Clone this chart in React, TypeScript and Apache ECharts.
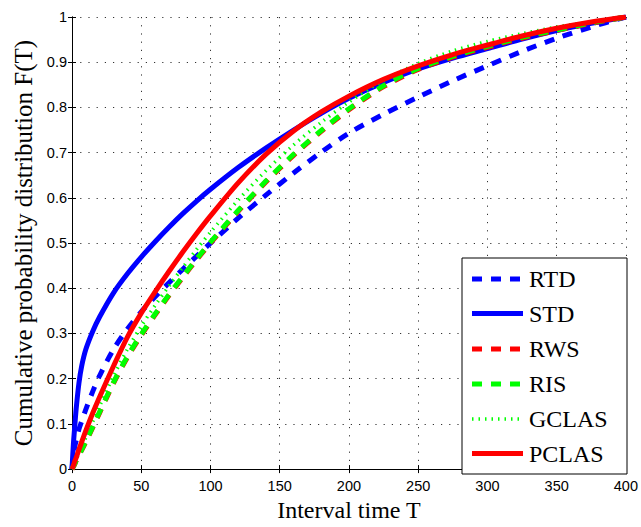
import React, { useEffect, useRef } from "react";
import * as echarts from "echarts";

const xs = [0, 1, 2, 3, 5, 7, 10, 15, 20, 30, 40, 50, 60, 70, 80, 90, 100, 120, 140, 160, 180, 200, 225, 250, 275, 300, 325, 350, 375, 400];

const rtd = [0, 0.03, 0.05, 0.063, 0.088, 0.106, 0.132, 0.172, 0.207, 0.265, 0.31, 0.348, 0.381, 0.412, 0.442, 0.471, 0.5, 0.555, 0.606, 0.655, 0.701, 0.743, 0.785, 0.823, 0.859, 0.892, 0.924, 0.953, 0.978, 1];
const std = [0, 0.055, 0.095, 0.133, 0.19, 0.228, 0.265, 0.305, 0.337, 0.39, 0.432, 0.469, 0.503, 0.535, 0.565, 0.593, 0.619, 0.667, 0.71, 0.75, 0.787, 0.82, 0.855, 0.885, 0.909, 0.93, 0.951, 0.97, 0.986, 1];
const rws = [0, 0.005, 0.011, 0.018, 0.03, 0.042, 0.06, 0.092, 0.125, 0.19, 0.247, 0.296, 0.341, 0.384, 0.424, 0.463, 0.5, 0.57, 0.635, 0.694, 0.747, 0.795, 0.846, 0.884, 0.911, 0.933, 0.953, 0.97, 0.986, 1];
const ris = [0, 0.006, 0.012, 0.019, 0.031, 0.043, 0.062, 0.094, 0.127, 0.192, 0.249, 0.298, 0.343, 0.386, 0.426, 0.465, 0.502, 0.572, 0.637, 0.696, 0.749, 0.797, 0.848, 0.886, 0.913, 0.935, 0.955, 0.971, 0.987, 1];
const gclas = [0, 0.006, 0.013, 0.02, 0.035, 0.049, 0.07, 0.105, 0.14, 0.206, 0.265, 0.316, 0.362, 0.405, 0.446, 0.486, 0.524, 0.595, 0.66, 0.717, 0.767, 0.812, 0.86, 0.897, 0.925, 0.946, 0.963, 0.978, 0.99, 1];
const pclas = [0, 0.008, 0.017, 0.025, 0.043, 0.06, 0.085, 0.124, 0.16, 0.228, 0.292, 0.345, 0.392, 0.437, 0.48, 0.521, 0.56, 0.633, 0.696, 0.748, 0.79, 0.825, 0.862, 0.892, 0.917, 0.938, 0.958, 0.975, 0.989, 1];

const names = ["RTD", "STD", "RWS", "RIS", "GCLAS", "PCLAS"];
const colors = ["#0000ff", "#0000ff", "#ff0000", "#00ff00", "#00ff00", "#ff0000"];
const dashes: any[] = [[10, 9], "solid", [10, 9], [10, 9], [1.5, 5], "solid"];
const widths = [5, 5, 5, 5, 3.5, 5];
const allData = [rtd, std, rws, ris, gclas, pclas];
const xTitle = "Interval time T";
const yTitle = "Cumulative probability distribution F(T)";

export default function App() {
  const ref = useRef<HTMLDivElement>(null);
  useEffect(() => {
    const chart = echarts.init(ref.current!, null, { renderer: "svg" });
    const sans = "Liberation Sans";
    const serif = "Liberation Serif";
    const baseX = {
      type: "value",
      min: 0,
      max: 400,
      interval: 50,
      axisLine: { show: true, lineStyle: { color: "#000", width: 1 } },
      axisTick: { show: true, inside: true, length: 4, lineStyle: { color: "#000" } },
    };
    const baseY = {
      type: "value",
      min: 0,
      max: 1,
      interval: 0.1,
      axisLine: { show: true, lineStyle: { color: "#000", width: 1 } },
      axisTick: { show: true, inside: true, length: 4, lineStyle: { color: "#000" } },
    };
    const grid = { type: [1.2, 7], color: "#333", width: 1 };

    // legend drawn as graphic elements
    const lgLeft = 462, lgTop = 258, lgW = 165, lgH = 216;
    const rowY = [279, 313.5, 349, 384, 419, 453.5];
    const legendEls: any[] = [
      {
        type: "rect",
        shape: { x: lgLeft, y: lgTop, width: lgW, height: lgH },
        style: { fill: "#fff", stroke: "#000", lineWidth: 1 },
        z: 100,
      },
    ];
    names.forEach((n, i) => {
      legendEls.push({
        type: "line",
        shape: { x1: 472, y1: rowY[i], x2: 523, y2: rowY[i] },
        style: {
          stroke: colors[i],
          lineWidth: widths[i],
          lineDash: Array.isArray(dashes[i]) ? dashes[i] : null,
        },
        z: 101,
      });
      legendEls.push({
        type: "text",
        x: 529,
        y: rowY[i],
        style: {
          text: n,
          fontFamily: serif,
          fontSize: 24,
          fill: "#000",
          verticalAlign: "middle",
          textVerticalAlign: "middle",
        },
        z: 101,
      });
    });

    chart.setOption({
      animation: false,
      backgroundColor: "#fff",
      grid: { left: 72, top: 17, right: 14, bottom: 51 },
      graphic: legendEls,
      xAxis: [
        {
          ...baseX,
          position: "bottom",
          name: xTitle,
          nameLocation: "middle",
          nameGap: 28,
          nameTextStyle: { fontFamily: serif, fontSize: 24, color: "#000" },
          axisLabel: { fontFamily: sans, fontSize: 14.5, color: "#000", margin: 9 },
          splitLine: { show: true, lineStyle: grid },
        },
        { ...baseX, position: "top", axisLabel: { show: false }, splitLine: { show: false } },
      ],
      yAxis: [
        {
          ...baseY,
          position: "left",
          name: yTitle,
          nameLocation: "middle",
          nameGap: 34,
          nameTextStyle: { fontFamily: serif, fontSize: 25, color: "#000" },
          axisLabel: {
            fontFamily: sans,
            fontSize: 14.5,
            color: "#000",
            margin: 5,
            formatter: (v: number) => String(parseFloat(v.toFixed(1))),
          },
          splitLine: { show: true, lineStyle: grid },
        },
        { ...baseY, position: "right", axisLabel: { show: false }, splitLine: { show: false } },
      ],
      series: names.map((n, i) => ({
        name: n,
        type: "line",
        xAxisIndex: 0,
        yAxisIndex: 0,
        symbol: "none",
        smooth: 0.3,
        data: xs.map((x, j) => [x, allData[i][j]]),
        itemStyle: { color: colors[i] },
        lineStyle: { color: colors[i], width: widths[i], type: dashes[i] },
        z: 2 + i,
      })),
    });
    return () => chart.dispose();
  }, []);
  return <div ref={ref} style={{ position: "fixed", left: 0, top: 0, width: 641, height: 527 }} />;
}
